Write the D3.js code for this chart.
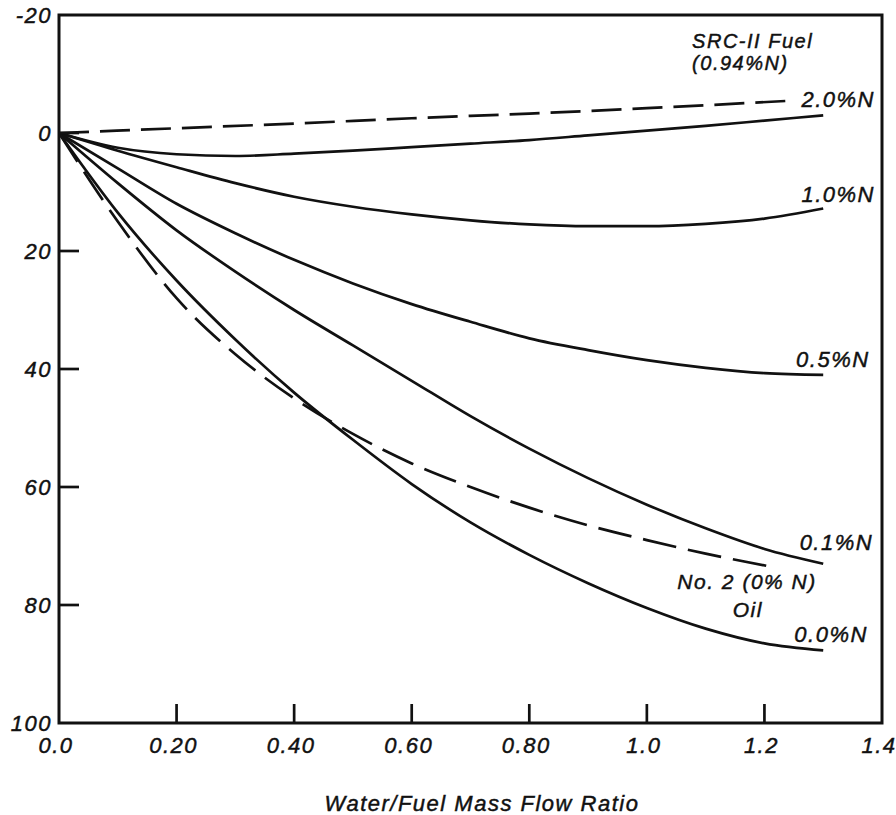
<!DOCTYPE html>
<html>
<head>
<meta charset="utf-8">
<script src="https://cdn.jsdelivr.net/npm/d3@7"></script>
<style>
  body { margin: 0; background: #fff; }
  svg text { font-family: "Liberation Sans", Arial, sans-serif; font-style: italic; fill: #111; stroke: #111; stroke-width: 0.45px; letter-spacing: 1.5px; }
</style>
</head>
<body>
<svg id="chart" width="896" height="815"></svg>
<script>
// x: water/fuel mass flow ratio, y: NOx reduction (axis reversed, -20 at top)
var xTicks = [0, 0.2, 0.4, 0.6, 0.8, 1.0, 1.2, 1.4];
var xTickLabels = ["0.0", "0.20", "0.40", "0.60", "0.80", "1.0", "1.2", "1.4"];
var yTicks = [-20, 0, 20, 40, 60, 80, 100];

var xs = [0, 0.1, 0.2, 0.3, 0.4, 0.5, 0.6, 0.7, 0.8, 0.9, 1.0, 1.1, 1.2, 1.3];

// SRC-II fuel curves (solid), one per fuel nitrogen level
var n20 = [0, 2.5, 3.6, 3.9, 3.5, 3.0, 2.4, 1.8, 1.2, 0.4, -0.4, -1.2, -2.1, -3.0];
var n10 = [0, 3.0, 5.8, 8.5, 10.8, 12.5, 13.8, 14.8, 15.5, 15.8, 15.8, 15.4, 14.5, 12.8];
var n05 = [0, 6.0, 12.0, 17.0, 21.5, 25.5, 29.0, 32.0, 34.8, 36.8, 38.5, 39.8, 40.7, 41.0];
var n01 = [0, 8.5, 16.5, 23.5, 30.0, 36.0, 42.0, 48.0, 53.5, 58.5, 63.0, 67.0, 70.5, 73.0];
var n00 = [0, 13.5, 25.0, 35.0, 44.0, 52.0, 59.5, 66.0, 71.5, 76.3, 80.5, 84.0, 86.5, 87.7];

// dashed curves
var dash20X = [0, 0.2, 0.4, 0.6, 0.8, 1.0, 1.25];
var dash20Y = [0, -0.8, -1.6, -2.5, -3.3, -4.2, -5.5];
var oilX = [0, 0.1, 0.2, 0.3, 0.4, 0.5, 0.6, 0.7, 0.8, 0.9, 1.0, 1.1, 1.206];
var oilY = [0, 15.0, 28.0, 37.5, 45.0, 51.0, 56.0, 60.0, 63.5, 66.5, 69.0, 71.3, 73.4];

// annotation text, anchored in data units
var notes = [
  { text: "SRC-II Fuel", x: 1.077, y: -14.4, anchor: "start", size: 20 },
  { text: "(0.94%N)", x: 1.077, y: -10.7, anchor: "start", size: 20 },
  { text: "2.0%N", x: 1.388, y: -4.4, anchor: "end", size: 22 },
  { text: "1.0%N", x: 1.388, y: 11.7, anchor: "end", size: 22 },
  { text: "0.5%N", x: 1.379, y: 39.7, anchor: "end", size: 22 },
  { text: "0.1%N", x: 1.385, y: 70.7, anchor: "end", size: 22 },
  { text: "No. 2 (0% N)", x: 1.289, y: 77.3, anchor: "end", size: 21 },
  { text: "Oil", x: 1.146, y: 82.0, anchor: "start", size: 21 },
  { text: "0.0%N", x: 1.376, y: 86.3, anchor: "end", size: 22 }
];

var svg = d3.select("#chart"),
    margin = {top: 15, right: 14, bottom: 92, left: 59},
    width = 896 - margin.left - margin.right,
    height = 815 - margin.top - margin.bottom,
    g = svg.append("g").attr("transform", "translate(" + margin.left + "," + margin.top + ")");

var x = d3.scaleLinear().domain([0, 1.4]).range([0, width]);
var y = d3.scaleLinear().domain([-20, 100]).range([0, height]);

var line = d3.line()
  .x(function(d) { return x(d[0]); })
  .y(function(d) { return y(d[1]); })
  .curve(d3.curveMonotoneX);

function zipPts(a, b) { return a.map(function(v, i) { return [v, b[i]]; }); }

var solids = [n20, n10, n05, n01, n00];
g.selectAll(".solid")
  .data(solids)
  .enter().append("path")
    .attr("class", "solid")
    .attr("d", function(d) { return line(zipPts(xs, d)); })
    .attr("fill", "none")
    .attr("stroke", "#111")
    .attr("stroke-width", 2.7);

g.append("path")
  .attr("d", line(zipPts(dash20X, dash20Y)))
  .attr("fill", "none")
  .attr("stroke", "#111")
  .attr("stroke-width", 2.7)
  .attr("stroke-dasharray", "30,11");

g.append("path")
  .attr("d", line(zipPts(oilX, oilY)))
  .attr("fill", "none")
  .attr("stroke", "#111")
  .attr("stroke-width", 2.7)
  .attr("stroke-dasharray", "34,12");

// frame
g.append("rect")
  .attr("width", width)
  .attr("height", height)
  .attr("fill", "none")
  .attr("stroke", "#111")
  .attr("stroke-width", 3);

// inward ticks
g.selectAll(".xtick")
  .data(xTicks.slice(1, -1))
  .enter().append("line")
    .attr("class", "xtick")
    .attr("x1", function(d) { return x(d); })
    .attr("x2", function(d) { return x(d); })
    .attr("y1", height)
    .attr("y2", height - 19)
    .attr("stroke", "#111")
    .attr("stroke-width", 2.7);

g.selectAll(".ytick")
  .data(yTicks.slice(1, -1))
  .enter().append("line")
    .attr("class", "ytick")
    .attr("x1", 0)
    .attr("x2", 20)
    .attr("y1", function(d) { return y(d); })
    .attr("y2", function(d) { return y(d); })
    .attr("stroke", "#111")
    .attr("stroke-width", 2.7);

g.selectAll(".xlab")
  .data(xTicks)
  .enter().append("text")
    .attr("class", "xlab")
    .attr("x", function(d) { return x(d) - 3; })
    .attr("y", height + 30)
    .attr("text-anchor", "middle")
    .style("font-size", "22px")
    .text(function(d, i) { return xTickLabels[i]; });

g.selectAll(".ylab")
  .data(yTicks)
  .enter().append("text")
    .attr("class", "ylab")
    .attr("x", -7)
    .attr("y", function(d) { return y(d); })
    .attr("dy", "0.36em")
    .attr("text-anchor", "end")
    .style("font-size", "22px")
    .text(function(d) { return d; });

g.selectAll(".note")
  .data(notes)
  .enter().append("text")
    .attr("class", "note")
    .attr("x", function(d) { return x(d.x); })
    .attr("y", function(d) { return y(d.y); })
    .attr("text-anchor", function(d) { return d.anchor; })
    .style("font-size", function(d) { return d.size + "px"; })
    .text(function(d) { return d.text; });

svg.append("text")
  .attr("x", 482)
  .attr("y", 811)
  .attr("text-anchor", "middle")
  .style("font-size", "22px")
  .text("Water/Fuel Mass Flow Ratio");
</script>
</body>
</html>
